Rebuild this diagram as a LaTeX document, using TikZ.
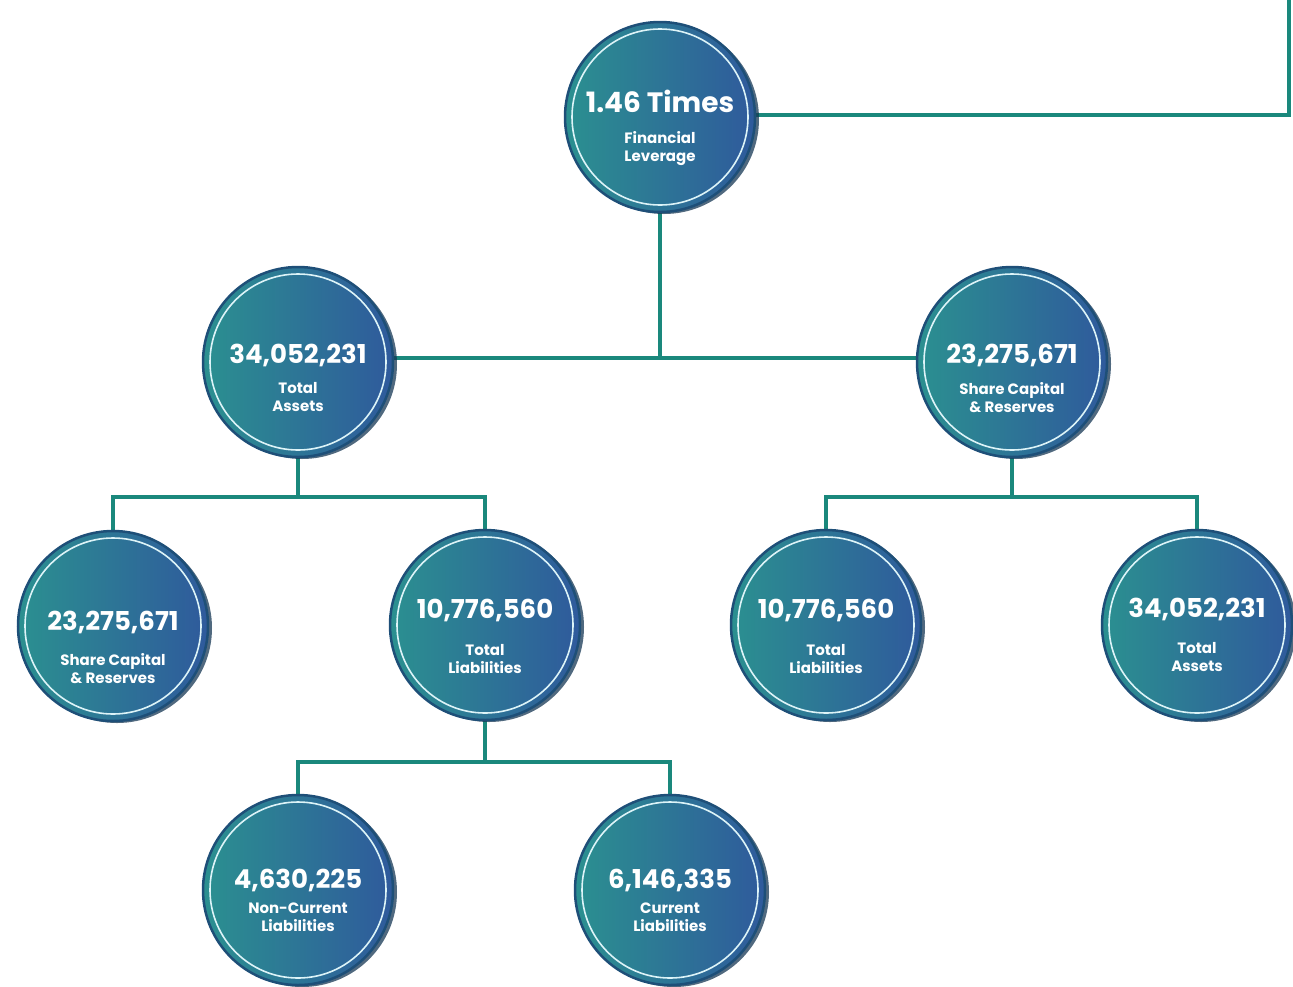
\documentclass[tikz,border=0pt]{standalone}
\usepackage{fontspec}
\setmainfont{Poppins}
\usetikzlibrary{shadows,backgrounds}
\definecolor{tealL}{HTML}{2B9090}
\definecolor{tealM}{HTML}{2A7F93}
\definecolor{blueR}{HTML}{2F5A9C}
\definecolor{edgeC}{HTML}{1E4F78}
\definecolor{lineC}{HTML}{1A887C}
\definecolor{ringC}{HTML}{DDF4F8}
\tikzset{
  disc/.style={circle, minimum size=190pt, inner sep=0pt,
    left color=tealL, middle color=tealM, right color=blueR, draw=edgeC, line width=2.5pt,
    drop shadow={shadow xshift=4pt, shadow yshift=-2pt, fill=edgeC!70!black, opacity=0.75},
    path picture={\draw[ringC, line width=1.6pt] (path picture bounding box.center) circle (88pt);}},
  num/.style={text=white, inner sep=0pt, font=\bfseries\fontsize{26}{28}\selectfont},
  lab/.style={align=center, text=white, inner sep=0pt, font=\bfseries\fontsize{15}{18}\selectfont},
  conn/.style={lineC, line width=3.8pt},
}
\begin{document}
\begin{tikzpicture}[x=1pt,y=-1pt]
\useasboundingbox (0,0) rectangle (1293,986);
\coordinate (corner) at (1289,115);
\coordinate (topend) at (1289,0);
\coordinate (j1) at (660,358);
\coordinate (j2) at (298,497);
\coordinate (j3) at (1012,497);
\coordinate (j4) at (485,762);

\node[disc] (fl) at (660,117) {};
\node[disc] (ta) at (298,362) {};
\node[disc] (sc) at (1012,362) {};
\node[disc] (sc2) at (113,626) {};
\node[disc] (tl) at (485,625) {};
\node[disc] (tl2) at (826,625) {};
\node[disc] (ta2) at (1197,625) {};
\node[disc] (ncl) at (298,890) {};
\node[disc] (cl) at (670,890) {};

\begin{scope}[on background layer]
\draw[conn] (fl.east |- corner) -- (corner) -- (topend);
\draw[conn] (fl.south) -- (j1);
\draw[conn] (ta.east |- j1) -- (sc.west |- j1);
\draw[conn] (ta.south) -- (j2);
\draw[conn] (sc2.north) -- (sc2.north |- j2) -- (tl.north |- j2) -- (tl.north);
\draw[conn] (sc.south) -- (j3);
\draw[conn] (tl2.north) -- (tl2.north |- j3) -- (ta2.north |- j3) -- (ta2.north);
\draw[conn] (tl.south) -- (j4);
\draw[conn] (ncl.north) -- (ncl.north |- j4) -- (cl.north |- j4) -- (cl.north);
\end{scope}

\node[num, font=\bfseries\fontsize{28}{30}\selectfont] (fln) at (660,101) {1.46 Times};
\node[lab] (fll) at (660,149) {Financial\\Leverage};
\node[num] (tan) at (298,355) {34,052,231};
\node[lab] (tal) at (298,397) {Total\\Assets};
\node[num] (scn) at (1012,355) {23,275,671};
\node[lab] (scl) at (1012,398) {Share Capital\\\& Reserves};
\node[num] (sc2n) at (113,622) {23,275,671};
\node[lab] (sc2l) at (113,669) {Share Capital\\\& Reserves};
\node[num] (tln) at (485,610) {10,776,560};
\node[lab] (tll) at (485,659) {Total\\Liabilities};
\node[num] (tl2n) at (826,610) {10,776,560};
\node[lab] (tl2l) at (826,659) {Total\\Liabilities};
\node[num] (ta2n) at (1197,609) {34,052,231};
\node[lab] (ta2l) at (1197,657) {Total\\Assets};
\node[num] (ncln) at (298,880) {4,630,225};
\node[lab] (ncll) at (298,917) {Non-Current\\Liabilities};
\node[num] (cln) at (670,880) {6,146,335};
\node[lab] (cll) at (670,917) {Current\\Liabilities};
\end{tikzpicture}
\end{document}
